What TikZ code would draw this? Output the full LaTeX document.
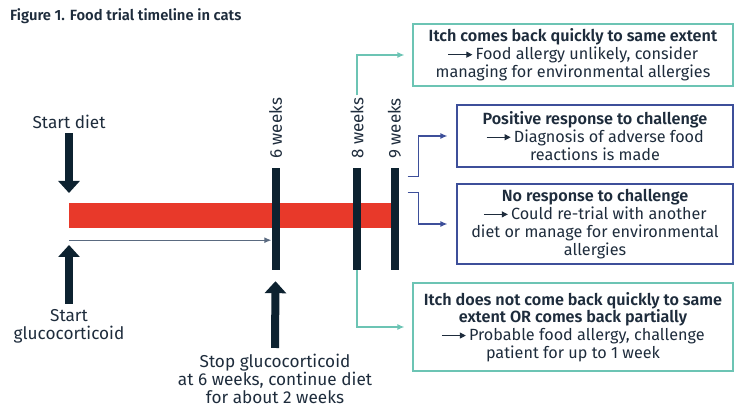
\documentclass[tikz,border=0pt]{standalone}
\usepackage{fontspec}
\setmainfont{Fira Sans}[BoldFont={Fira Sans SemiBold}]
\usetikzlibrary{arrows.meta,positioning}
\definecolor{navy}{HTML}{0D2230}
\definecolor{dietred}{HTML}{E8392A}
\definecolor{tealc}{HTML}{6CC4B4}
\definecolor{bluec}{HTML}{3D4F9A}
\definecolor{inkc}{HTML}{1E2C3C}
\definecolor{greyc}{HTML}{5A6A80}
\newcommand{\thenarrow}{\tikz[baseline=-0.6ex]\draw[line width=1pt,-{Triangle[length=6pt,width=6pt]}] (0,0) -- (24pt,0);\,}

\begin{document}
\begin{tikzpicture}[x=1pt,y=-1pt,font=\fontsize{17.2}{18}\selectfont,text=inkc]
                \tikzstyle{label}=[inner sep=1pt, align=center]
                \tikzstyle{weekbar}=[fill=navy, minimum width=8pt, minimum height=102pt, inner sep=0pt]
                \tikzstyle{weeklabel}=[rotate=90, anchor=west, inner sep=2pt, font=\fontsize{17}{18}\selectfont]
                \tikzstyle{bigarrow}=[navy, line width=8pt, -{Triangle[length=12pt,width=21pt]}]
                \tikzstyle{thin}=[greyc, line width=1pt, -{Latex[length=7pt,width=6pt]}]
                \tikzstyle{tealbox}=[draw=tealc, line width=1.2pt, align=center, minimum width=320pt, inner sep=0pt, font=\fontsize{16.2}{17.8}\selectfont]
                \tikzstyle{bluebox}=[draw=bluec, line width=1.2pt, align=center, minimum width=276pt, inner sep=0pt, font=\fontsize{16.2}{17.8}\selectfont]
                \tikzstyle{tealconn}=[tealc, line width=1.2pt, -{Latex[length=7pt,width=6pt]}]
                \tikzstyle{blueconn}=[bluec, line width=1.2pt, -{Latex[length=7pt,width=6pt]}]
                \useasboundingbox (0,0) rectangle (750,414);
                \node[anchor=west, inner sep=0pt, font=\bfseries\fontsize{14.8}{18}\selectfont] (title) at (10,16) {Figure 1. Food trial timeline in cats};
                % timeline
                \node[fill=dietred, minimum width=324pt, minimum height=25pt, inner sep=0pt] (diet) at (231,215.5) {};
                \node[weekbar] (w6) at (275.5,219) {};
                \node[weekbar] (w8) at (357,219) {};
                \node[weekbar] (w9) at (394.5,219) {};
                \node[weeklabel] (l6) at (275.5,161) {6 weeks};
                \node[weeklabel] (l8) at (357,161) {8 weeks};
                \node[weeklabel] (l9) at (394.5,161) {9 weeks};
                \draw[thin] ([yshift=-12pt]diet.south west) -- ([yshift=-12pt]diet.south west -| w6.west);
                % start and stop
                \node[label] (sd) at (69,122) {Start diet};
                \coordinate (sdtip) at (69,193);
                \draw[bigarrow] ([yshift=-3pt]sd.south) -- (sdtip);
                \node[label] (sg) at (69,326) {Start\\glucocorticoid};
                \coordinate (sgtip) at (69,245);
                \draw[bigarrow] ([yshift=4pt]sg.north) -- (sgtip);
                \node[label] (stop) at (275,379) {Stop glucocorticoid\\at 6 weeks, continue diet\\for about 2 weeks};
                \draw[bigarrow] ([yshift=5pt]stop.north) -- ([yshift=-11pt]w6.south);
                % outcome boxes
                \node[tealbox, minimum height=62pt] (itch) at (573,55) {\textbf{Itch comes back quickly to same extent}\\\thenarrow Food allergy unlikely, consider\\managing for environmental allergies};
                \node[bluebox, minimum height=62pt] (pos) at (595,136) {\textbf{Positive response to challenge}\\\thenarrow Diagnosis of adverse food\\reactions is made};
                \node[bluebox, minimum height=80pt] (nores) at (595,224) {\textbf{No response to challenge}\\\thenarrow Could re-trial with another\\diet or manage for environmental\\allergies};
                \node[tealbox, minimum height=88pt] (noitch) at (573,327) {\textbf{Itch does not come back quickly to same}\\\textbf{extent OR comes back partially}\\\thenarrow Probable food allergy, challenge\\patient for up to 1 week};
                \draw[tealconn] (l8.east) |- ([xshift=-8pt]itch.west);
                \draw[tealconn] (w8.south) |- ([xshift=-8pt]noitch.west);
                \draw[blueconn] ([xshift=9pt,yshift=-9pt]w9.north east) -- ++(11,0) |- ([xshift=-9pt]pos.west);
                \draw[blueconn] ([xshift=9pt,yshift=-25pt]w9.north east) -- ++(11,0) |- ([xshift=-9pt]nores.west);
    \end{tikzpicture}
\end{document}
